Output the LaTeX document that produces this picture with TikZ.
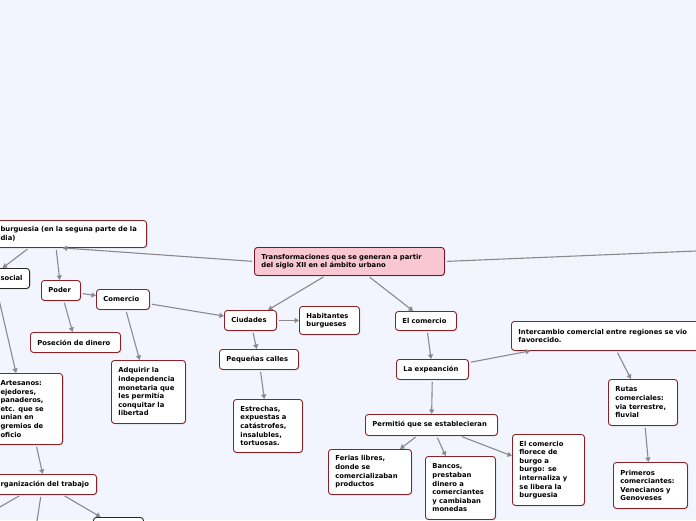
\documentclass[tikz,border=0pt]{standalone}
\usepackage{fontspec}
\setmainfont{DejaVu Sans}
\usetikzlibrary{positioning,arrows.meta,shadows}
\definecolor{paperblue}{RGB}{242,245,254}
\definecolor{topicred}{RGB}{140,32,38}
\definecolor{centralpink}{RGB}{249,199,210}
\definecolor{centralred}{RGB}{118,22,40}
\definecolor{linkgray}{RGB}{138,138,142}
\definecolor{darkedge}{RGB}{40,40,40}

\tikzset{
  topic/.style={draw=topicred,fill=white,rounded corners=3pt,line width=0.9pt,
    anchor=north west,align=left,inner xsep=7pt,inner ysep=3pt,
    font=\bfseries\fontsize{6.8}{8.6}\selectfont,
    drop shadow={shadow xshift=0.8pt,shadow yshift=-0.8pt,opacity=0.3}},
  central/.style={topic,draw=centralred,fill=centralpink},
  plain/.style={topic,draw=darkedge},
  link/.style={draw=linkgray,line width=1.1pt,shorten <=2pt,
    -{Triangle[width=5pt,length=4.5pt]}},
  tail/.style={draw=linkgray,line width=1.1pt,shorten <=2pt}
}

\begin{document}
\begin{tikzpicture}[x=1pt,y=-1pt]
  \useasboundingbox (0,0) rectangle (696,520);
  \clip (0,0) rectangle (696,520);
  \fill[paperblue] (0,0) rectangle (696,520);

  % centre
  \node[central,text width=176pt,minimum height=28pt] (trans) at (254,247)
    {Transformaciones que se generan a partir\\del siglo XII en el ámbito urbano};

  % left branch (cut by the page edge)
  \node[topic,anchor=north east,text width=139pt,minimum height=27pt] (burg) at (147,220)
    {burguesia (en la seguna parte de la\\dia)};
  \node[plain,anchor=north east,text width=22pt,minimum height=20pt] (social) at (30,268) {social};
  \node[topic,text width=25pt,minimum height=20pt] (poder) at (41,280) {Poder};
  \node[topic,text width=39pt,minimum height=20pt] (comercio) at (96,289) {Comercio};
  \node[topic,text width=76pt,minimum height=20pt] (posecion) at (30,332) {Poseción de dinero};
  \node[topic,text width=60pt,minimum height=63pt] (adquirir) at (111,360)
    {Adquirir la\\independencia\\monetaria que\\les permitía\\conquitar la\\libertad};
  \node[topic,anchor=north east,text width=55pt,minimum height=71pt] (artesanos) at (63,373)
    {Artesanos:\\ejedores,\\panaderos,\\etc. que se\\unian en\\gremios de\\oficio};
  \node[topic,anchor=north east,text width=89pt,minimum height=20pt] (organiz) at (97,474)
    {rganización del trabajo};
  \node[plain,minimum width=50pt,minimum height=20pt] (labor) at (93,517) {};
  \coordinate (offLL) at (-30,524);
  \coordinate (offB) at (34,540);

  % ciudades
  \node[topic,text width=38pt,minimum height=20pt] (ciudades) at (224,310) {Ciudades};
  \node[topic,text width=46pt,minimum height=28pt] (habitantes) at (299,306) {Habitantes\\burgueses};
  \node[topic,text width=65pt,minimum height=20pt] (pequenas) at (219,349) {Pequeñas calles};
  \node[topic,text width=55pt,minimum height=53pt] (estrechas) at (233,399)
    {Estrechas,\\expuestas a\\catástrofes,\\insalubles,\\tortuosas.};

  % comercio
  \node[topic,text width=47pt,minimum height=19pt] (elcomercio) at (395,311) {El comercio};
  \node[topic,text width=58pt,minimum height=20pt] (expeancion) at (396,359) {La expeanción};
  \node[topic,text width=181pt,minimum height=29pt] (intercambio) at (511,321)
    {Intercambio comercial entre regiones se vio\\favorecido.};
  \node[topic,text width=55pt,minimum height=46pt] (rutas) at (608,379)
    {Rutas\\comerciales:\\via terrestre,\\fluvial};
  \node[topic,text width=60pt,minimum height=46pt] (primeros) at (613,462)
    {Primeros\\comerciantes:\\Venecianos y\\Genoveses};
  \node[topic,text width=118pt,minimum height=21pt] (permitio) at (365,414)
    {Permitió que se establecieran};
  \node[topic,text width=69pt,minimum height=45pt] (ferias) at (328,449)
    {Ferias libres,\\donde se\\comercializaban\\productos};
  \node[topic,text width=56pt,minimum height=63pt] (bancos) at (425,456)
    {Bancos,\\prestaban\\dinero a\\comerciantes\\y cambiaban\\monedas};
  \node[topic,text width=58pt,minimum height=71pt] (florece) at (512,434)
    {El comercio\\florece de\\burgo a\\burgo: se\\internaliza y\\se libera la\\burguesia};
  \coordinate (offR) at (720,250);

  % connectors
  \draw[link] (trans.west) -- ([xshift=-7.5pt]burg.south);
  \draw[tail] (trans.east) -- (offR);
  \draw[link] (trans) -- (ciudades);
  \draw[link] (trans) -- (elcomercio);
  \draw[link] ([xshift=-41pt]burg.south) -- ([xshift=-9pt]social.north);
  \draw[link] ([xshift=-14pt]burg.south) -- (poder);
  \draw[link] (poder) -- (comercio);
  \draw[link] (poder) -- (posecion);
  \draw[link] (comercio) -- (ciudades);
  \draw[link] (comercio) -- (adquirir);
  \draw[link] ([xshift=-15pt]social.south) -- ([xshift=-12pt]artesanos.north);
  \draw[link] (artesanos) -- (organiz);
  \draw[tail] ([xshift=-24pt]organiz.south) -- (offLL);
  \draw[tail] ([xshift=-4pt]organiz.south) -- (offB);
  \draw[link] (organiz) -- (labor);
  \draw[link] (ciudades) -- (habitantes);
  \draw[link] (ciudades) -- (pequenas);
  \draw[link] (pequenas) -- (estrechas);
  \draw[link] (elcomercio) -- (expeancion);
  \draw[link] (expeancion) -- (intercambio);
  \draw[link] (intercambio) -- (rutas);
  \draw[link] (rutas) -- (primeros);
  \draw[link] (expeancion) -- (permitio);
  \draw[link] (permitio) -- (ferias);
  \draw[link] (permitio) -- (bancos);
  \draw[link] (permitio) -- (florece);
\end{tikzpicture}
\end{document}
